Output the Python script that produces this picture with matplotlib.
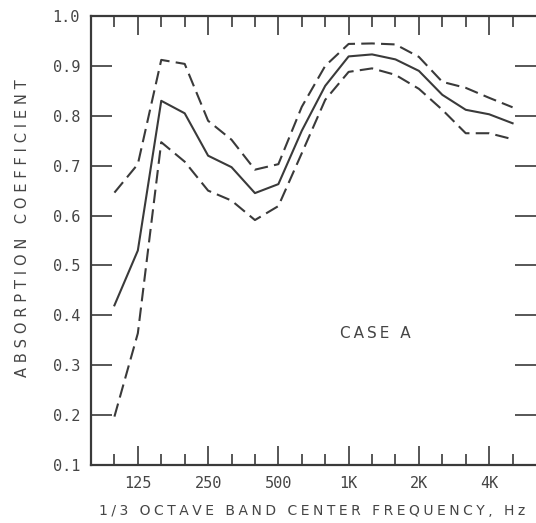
import numpy as np
import matplotlib
matplotlib.use('Agg')
import matplotlib.pyplot as plt

# 1/3 octave band centres (Hz) and absorption coefficients
bands = ['100', '125', '160', '200', '250', '315', '400', '500', '630', '800',
         '1K', '1.25K', '1.6K', '2K', '2.5K', '3.15K', '4K', '5K']
mean_alpha = [0.42, 0.53, 0.83, 0.805, 0.72, 0.697, 0.645, 0.663, 0.77, 0.86,
              0.919, 0.923, 0.913, 0.89, 0.842, 0.812, 0.803, 0.785]
upper_alpha = [0.646, 0.703, 0.912, 0.904, 0.79, 0.752, 0.692, 0.703, 0.818, 0.9,
               0.944, 0.945, 0.943, 0.918, 0.868, 0.856, 0.836, 0.817]
lower_alpha = [0.197, 0.364, 0.747, 0.708, 0.65, 0.63, 0.591, 0.619, 0.725, 0.832,
               0.888, 0.895, 0.882, 0.854, 0.812, 0.765, 0.765, 0.753]

labelled = ['125', '250', '500', '1K', '2K', '4K']
yticks = [0.1, 0.2, 0.3, 0.4, 0.5, 0.6, 0.7, 0.8, 0.9, 1.0]

ink = '#3a3a3a'
txt = '#454545'
plt.rcParams['font.family'] = ['DejaVu Sans Mono', 'DejaVu Sans']


def spaced(s, sep='\u2005'):
    # poor man's letter spacing: narrow unicode spaces between glyphs
    return sep.join(s)


fig = plt.figure(figsize=(5.36, 5.23), dpi=100)
ax = fig.add_axes([91 / 536, 1 - 465 / 523, 1 - 91 / 536, 449 / 523])

x = np.arange(len(bands))
ax.plot(x, mean_alpha, color=ink, lw=1.5)
ax.plot(x, upper_alpha, color=ink, lw=1.5, linestyle=(0, (6.5, 3)))
ax.plot(x, lower_alpha, color=ink, lw=1.5, linestyle=(0, (6.5, 3)))

ax.set_xlim(-1, len(bands))
ax.set_ylim(0.1, 1.0)

major = [bands.index(b) for b in labelled]
minor = [i for i in x if i not in major]
ax.set_xticks(major)
ax.set_xticklabels(labelled)
ax.set_xticks(minor, minor=True)
ax.set_yticks(yticks)
ax.set_yticklabels([f'{v:.1f}' for v in yticks])

ax.tick_params(axis='x', which='major', direction='in', length=14, width=1.2,
               top=True, color=ink, pad=8, labelsize=11, labelcolor=txt)
ax.tick_params(axis='x', which='minor', direction='in', length=8, width=1.2,
               top=True, color=ink)
ax.tick_params(axis='y', direction='in', length=15, width=1.2, right=True,
               color=ink, pad=8, labelsize=11, labelcolor=txt)

for side in ['left', 'bottom', 'top']:
    ax.spines[side].set_linewidth(1.6)
    ax.spines[side].set_color(ink)
ax.spines['right'].set_visible(False)

ax.set_xlabel(spaced('1/3 OCTAVE BAND CENTER FREQUENCY, Hz'), fontsize=10,
              family='DejaVu Sans', color=txt, va='center')
ax.xaxis.set_label_coords(0.497, -0.102)
ax.set_ylabel(spaced('ABSORPTION COEFFICIENT', '\u2004'), fontsize=10.5,
              family='DejaVu Sans', color=txt, va='center')
ax.yaxis.set_label_coords(-0.155, 0.528)

ax.text(11.15, 0.363, spaced('CASE A', '\u2009'), fontsize=11,
        family='DejaVu Sans', color=txt, ha='center', va='center')

fig.savefig('out.png', dpi=100, facecolor='white')
